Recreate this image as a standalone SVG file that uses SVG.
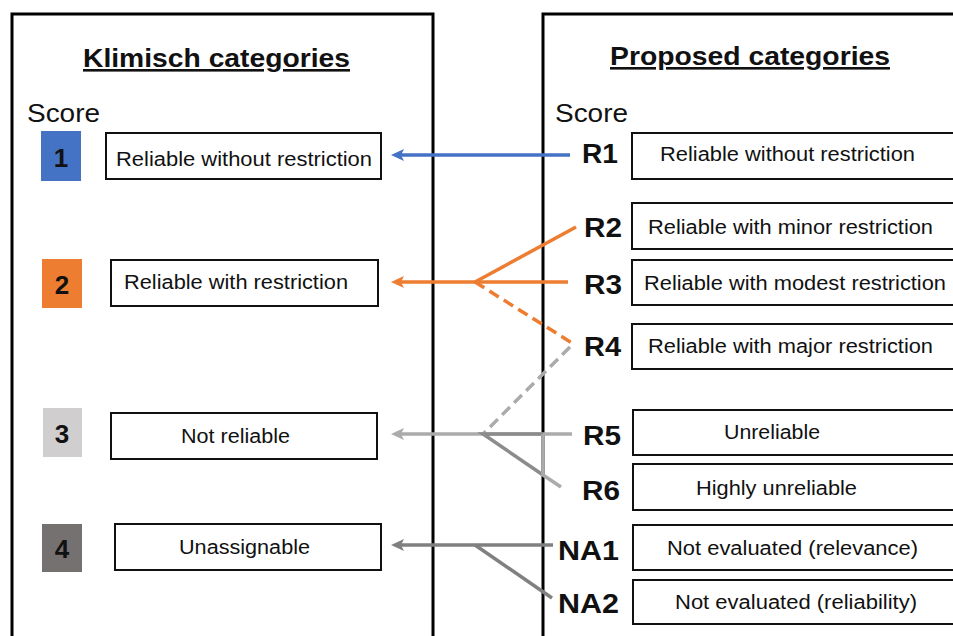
<svg xmlns="http://www.w3.org/2000/svg" width="953" height="636" viewBox="0 0 953 636">
<defs>
<style>
.panel{fill:none;stroke:#000;stroke-width:3}
.box{fill:#fff;stroke:#111;stroke-width:2}
.t{font-family:"Liberation Sans",Arial,sans-serif;font-size:20px;fill:#111}
.title{font-family:"Liberation Sans",Arial,sans-serif;font-size:26px;font-weight:bold;fill:#111;text-decoration:underline}
.score{font-family:"Liberation Sans",Arial,sans-serif;font-size:25px;fill:#111}
.num{font-family:"Liberation Sans",Arial,sans-serif;font-size:26px;font-weight:bold;fill:#111;text-anchor:middle}
.lab{font-family:"Liberation Sans",Arial,sans-serif;font-size:27px;font-weight:bold;fill:#111}
.c{fill:none;stroke-width:3.5}
</style>
<marker id="aBlue" markerUnits="userSpaceOnUse" markerWidth="14" markerHeight="14" refX="3" refY="7" orient="auto"><path d="M0,1 L13,7 L0,13 L3,7 z" fill="#4472C4"/></marker>
<marker id="aOrange" markerUnits="userSpaceOnUse" markerWidth="14" markerHeight="14" refX="3" refY="7" orient="auto"><path d="M0,1 L13,7 L0,13 L3,7 z" fill="#ED7D31"/></marker>
<marker id="aLight" markerUnits="userSpaceOnUse" markerWidth="14" markerHeight="14" refX="3" refY="7" orient="auto"><path d="M0,1 L13,7 L0,13 L3,7 z" fill="#ABABAB"/></marker>
<marker id="aDark" markerUnits="userSpaceOnUse" markerWidth="14" markerHeight="14" refX="3" refY="7" orient="auto"><path d="M0,1 L13,7 L0,13 L3,7 z" fill="#808080"/></marker>
</defs>
<rect width="953" height="636" fill="#fff"/>

<g id="panel-klimisch">
<rect class="panel" x="12" y="14" width="421" height="640"/>
<text class="title" x="83" y="67" textLength="267" lengthAdjust="spacingAndGlyphs">Klimisch categories</text>
<text class="score" x="27" y="122" textLength="73" lengthAdjust="spacingAndGlyphs">Score</text>
</g>
<g id="panel-proposed">
<rect class="panel" x="543" y="14" width="430" height="640"/>
<text class="title" x="610" y="65" textLength="280" lengthAdjust="spacingAndGlyphs">Proposed categories</text>
<text class="score" x="555" y="122" textLength="73" lengthAdjust="spacingAndGlyphs">Score</text>
</g>

<g id="k1">
<rect x="41" y="131" width="40" height="50" fill="#4472C4"/>
<text class="num" x="61" y="167">1</text>
<rect class="box" x="106" y="133" width="275" height="46"/>
<text class="t" x="116" y="166" textLength="256" lengthAdjust="spacingAndGlyphs">Reliable without restriction</text>
</g>
<g id="k2">
<rect x="42" y="259" width="40" height="49" fill="#ED7D31"/>
<text class="num" x="62" y="294">2</text>
<rect class="box" x="111" y="260" width="267" height="46"/>
<text class="t" x="124" y="289" textLength="224" lengthAdjust="spacingAndGlyphs">Reliable with restriction</text>
</g>
<g id="k3">
<rect x="43" y="408" width="39" height="49" fill="#D0CECE"/>
<text class="num" x="62" y="443">3</text>
<rect class="box" x="111" y="413" width="266" height="46"/>
<text class="t" x="181" y="443" textLength="109" lengthAdjust="spacingAndGlyphs">Not reliable</text>
</g>
<g id="k4">
<rect x="42" y="524" width="40" height="48" fill="#767171"/>
<text class="num" x="62" y="558">4</text>
<rect class="box" x="115" y="524" width="266" height="46"/>
<text class="t" x="179" y="554" textLength="131" lengthAdjust="spacingAndGlyphs">Unassignable</text>
</g>

<g id="r1">
<text class="lab" x="582" y="163" textLength="36" lengthAdjust="spacingAndGlyphs">R1</text>
<rect class="box" x="632" y="133" width="340" height="46"/>
<text class="t" x="660" y="161" textLength="255" lengthAdjust="spacingAndGlyphs">Reliable without restriction</text>
</g>
<g id="r2">
<text class="lab" x="584" y="237" textLength="38" lengthAdjust="spacingAndGlyphs">R2</text>
<rect class="box" x="632" y="203" width="340" height="46"/>
<text class="t" x="648" y="234" textLength="285" lengthAdjust="spacingAndGlyphs">Reliable with minor restriction</text>
</g>
<g id="r3">
<text class="lab" x="584" y="294" textLength="38" lengthAdjust="spacingAndGlyphs">R3</text>
<rect class="box" x="632" y="260" width="340" height="45"/>
<text class="t" x="644" y="290" textLength="302" lengthAdjust="spacingAndGlyphs">Reliable with modest restriction</text>
</g>
<g id="r4">
<text class="lab" x="584" y="356" textLength="37" lengthAdjust="spacingAndGlyphs">R4</text>
<rect class="box" x="632" y="324" width="340" height="45"/>
<text class="t" x="648" y="353" textLength="285" lengthAdjust="spacingAndGlyphs">Reliable with major restriction</text>
</g>
<g id="r5">
<text class="lab" x="583" y="445" textLength="38" lengthAdjust="spacingAndGlyphs">R5</text>
<rect class="box" x="633" y="410" width="340" height="45"/>
<text class="t" x="724" y="439" textLength="96" lengthAdjust="spacingAndGlyphs">Unreliable</text>
</g>
<g id="r6">
<text class="lab" x="582" y="500" textLength="38" lengthAdjust="spacingAndGlyphs">R6</text>
<rect class="box" x="633" y="464" width="340" height="46"/>
<text class="t" x="696" y="495" textLength="161" lengthAdjust="spacingAndGlyphs">Highly unreliable</text>
</g>
<g id="na1">
<text class="lab" x="558" y="560" textLength="61" lengthAdjust="spacingAndGlyphs">NA1</text>
<rect class="box" x="633" y="525" width="340" height="45"/>
<text class="t" x="667" y="555" textLength="251" lengthAdjust="spacingAndGlyphs">Not evaluated (relevance)</text>
</g>
<g id="na2">
<text class="lab" x="558" y="613" textLength="61" lengthAdjust="spacingAndGlyphs">NA2</text>
<rect class="box" x="633" y="580" width="340" height="44"/>
<text class="t" x="675" y="609" textLength="242" lengthAdjust="spacingAndGlyphs">Not evaluated (reliability)</text>
</g>

<g id="connectors">
<path class="c" d="M570,155 L401,155" stroke="#4472C4" marker-end="url(#aBlue)"/>
<path class="c" d="M568,282 L401,282" stroke="#ED7D31" marker-end="url(#aOrange)"/>
<path class="c" d="M475,282 L576,227" stroke="#ED7D31"/>
<path class="c" d="M475,282 L572,343" stroke="#ED7D31" stroke-dasharray="11,6"/>
<path class="c" d="M570,347 L483,434" stroke="#ABABAB" stroke-dasharray="11,6"/>
<path class="c" d="M572,434 L401,434" stroke="#ABABAB" marker-end="url(#aLight)"/>
<path class="c" d="M543,434 L483,434 L543,475" stroke="#8C8C8C"/>
<path class="c" d="M543,434 L543,475 L561,487" stroke="#ABABAB"/>
<path class="c" d="M553,545 L401,545" stroke="#808080" marker-end="url(#aDark)"/>
<path class="c" d="M475,545 L552,598" stroke="#808080"/>
</g>
</svg>
